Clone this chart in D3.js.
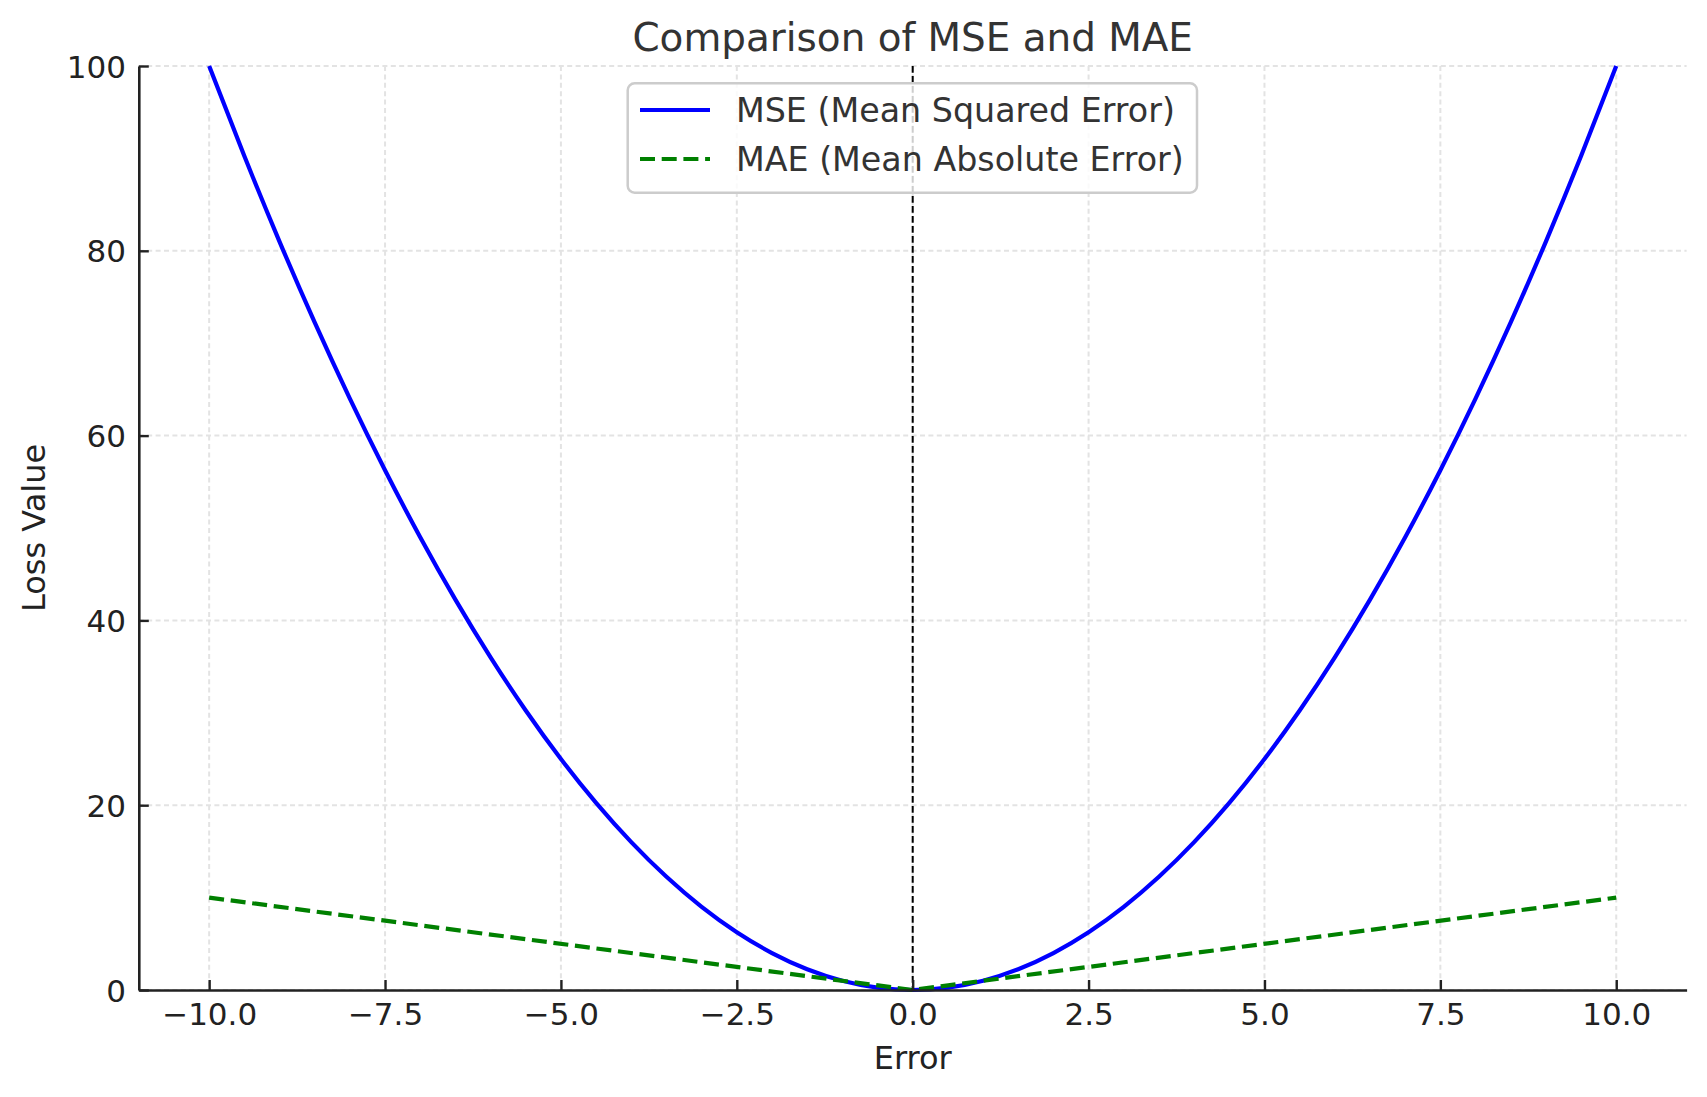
<!DOCTYPE html>
<html>

<head>
  <meta charset="utf-8">
  <title>Comparison of MSE and MAE</title>
  <script src="https://d3js.org/d3.v7.min.js"></script>
  <style>
    body {
      margin: 0;
      background: #ffffff;
      font-family: "DejaVu Sans", sans-serif;
    }

    .tick text {
      font-family: "DejaVu Sans", sans-serif;
      font-size: 31px;
      fill: #222222;
    }

    .grid line {
      stroke: #e3e3e3;
      stroke-width: 2;
      stroke-dasharray: 5 3.4;
    }
  </style>
</head>

<body>
  <svg id="chart"></svg>

  <script>
    // values
    const errors = [-10, -9.5, -9, -8.5, -8, -7.5, -7, -6.5, -6, -5.5, -5, -4.5, -4, -3.5, -3, -2.5, -2, -1.5, -1, -0.5,
      0, 0.5, 1, 1.5, 2, 2.5, 3, 3.5, 4, 4.5, 5, 5.5, 6, 6.5, 7, 7.5, 8, 8.5, 9, 9.5, 10];
    const mseValues = [100, 90.25, 81, 72.25, 64, 56.25, 49, 42.25, 36, 30.25, 25, 20.25, 16, 12.25, 9, 6.25, 4, 2.25, 1, 0.25,
      0, 0.25, 1, 2.25, 4, 6.25, 9, 12.25, 16, 20.25, 25, 30.25, 36, 42.25, 49, 56.25, 64, 72.25, 81, 90.25, 100];
    const maeErrors = [-10, 0, 10];
    const maeValues = [10, 0, 10];
    const xTicks = [-10, -7.5, -5, -2.5, 0, 2.5, 5, 7.5, 10];
    const yTicks = [0, 20, 40, 60, 80, 100];
    const seriesNames = ["MSE (Mean Squared Error)", "MAE (Mean Absolute Error)"];

    const width = 1707;
    const height = 1097;
    const plotLeft = 138.8, plotRight = 1686.6, plotTop = 66, plotBottom = 990;

    const svg = d3.select("#chart").attr("width", width).attr("height", height);

    const x = d3.scaleLinear().domain([-11, 11]).range([plotLeft, plotRight]);
    const y = d3.scaleLinear().domain([0, 100]).range([plotBottom, plotTop]);

    // grid
    svg.append("g").attr("class", "grid")
      .selectAll("line").data(xTicks).enter().append("line")
      .attr("x1", d => x(d)).attr("x2", d => x(d))
      .attr("y1", plotTop).attr("y2", plotBottom);
    svg.append("g").attr("class", "grid")
      .selectAll("line").data(yTicks).enter().append("line")
      .attr("x1", plotLeft).attr("x2", plotRight)
      .attr("y1", d => y(d)).attr("y2", d => y(d));

    // curves
    const mseLine = d3.line()
      .x((d, i) => x(errors[i]))
      .y(d => y(d))
      .curve(d3.curveMonotoneX);
    svg.append("path")
      .attr("d", mseLine(mseValues))
      .attr("fill", "none")
      .attr("stroke", "#0000ff")
      .attr("stroke-width", 4.2);

    const maeLine = d3.line()
      .x((d, i) => x(maeErrors[i]))
      .y(d => y(d));
    svg.append("path")
      .attr("d", maeLine(maeValues))
      .attr("fill", "none")
      .attr("stroke", "#008000")
      .attr("stroke-width", 4.2)
      .attr("stroke-dasharray", "15 6.7");

    // vertical line at zero
    svg.append("line")
      .attr("x1", x(0)).attr("x2", x(0))
      .attr("y1", plotTop).attr("y2", plotBottom)
      .attr("stroke", "#000000")
      .attr("stroke-width", 2)
      .attr("stroke-dasharray", "6.7 3.3");

    // axes
    const xAxis = svg.append("g")
      .attr("transform", `translate(0,${plotBottom})`)
      .call(d3.axisBottom(x).tickValues(xTicks).tickFormat(d3.format(".1f"))
        .tickSizeInner(-10).tickSizeOuter(0).tickPadding(13));
    const yAxis = svg.append("g")
      .attr("transform", `translate(${plotLeft},0)`)
      .call(d3.axisLeft(y).tickValues(yTicks).tickFormat(d3.format("d"))
        .tickSizeInner(-10).tickSizeOuter(0).tickPadding(12.8));

    [xAxis, yAxis].forEach(a => {
      a.select(".domain").attr("stroke", "#222222").attr("stroke-width", 2.6);
      a.selectAll(".tick line").attr("stroke", "#222222").attr("stroke-width", 2.4);
      a.attr("font-family", null).attr("font-size", null);
    });
    yAxis.selectAll(".tick text").attr("dy", "0.36em");

    // title and labels
    svg.append("text")
      .attr("x", x(0)).attr("y", 50.7)
      .attr("text-anchor", "middle")
      .attr("font-size", 38.9)
      .attr("fill", "#333333")
      .text("Comparison of MSE and MAE");

    svg.append("text")
      .attr("x", x(0)).attr("y", 1069)
      .attr("text-anchor", "middle")
      .attr("font-size", 32)
      .attr("fill", "#222222")
      .text("Error");

    svg.append("text")
      .attr("transform", `translate(45,${(plotTop + plotBottom) / 2}) rotate(-90)`)
      .attr("text-anchor", "middle")
      .attr("font-size", 32)
      .attr("fill", "#222222")
      .text("Loss Value");

    // legend
    const legend = svg.append("g");
    legend.append("rect")
      .attr("x", 627.7).attr("y", 83.3)
      .attr("width", 569.3).attr("height", 109.4)
      .attr("rx", 7)
      .attr("fill", "#ffffff").attr("fill-opacity", 0.8)
      .attr("stroke", "#cccccc").attr("stroke-width", 2.5);

    const legendStyles = [
      { color: "#0000ff", dash: null },
      { color: "#008000", dash: "15 6.7" }
    ];
    const rows = legend.selectAll(".legend-row")
      .data(seriesNames).enter().append("g")
      .attr("class", "legend-row")
      .attr("transform", (d, i) => `translate(0,${110 + i * 49})`);
    rows.append("line")
      .attr("x1", 640).attr("x2", 710)
      .attr("stroke", (d, i) => legendStyles[i].color)
      .attr("stroke-width", 4.2)
      .attr("stroke-dasharray", (d, i) => legendStyles[i].dash);
    rows.append("text")
      .attr("x", 736).attr("dy", "0.36em")
      .attr("font-size", 33.3)
      .attr("fill", "#333333")
      .text(d => d);
  </script>
</body>

</html>
